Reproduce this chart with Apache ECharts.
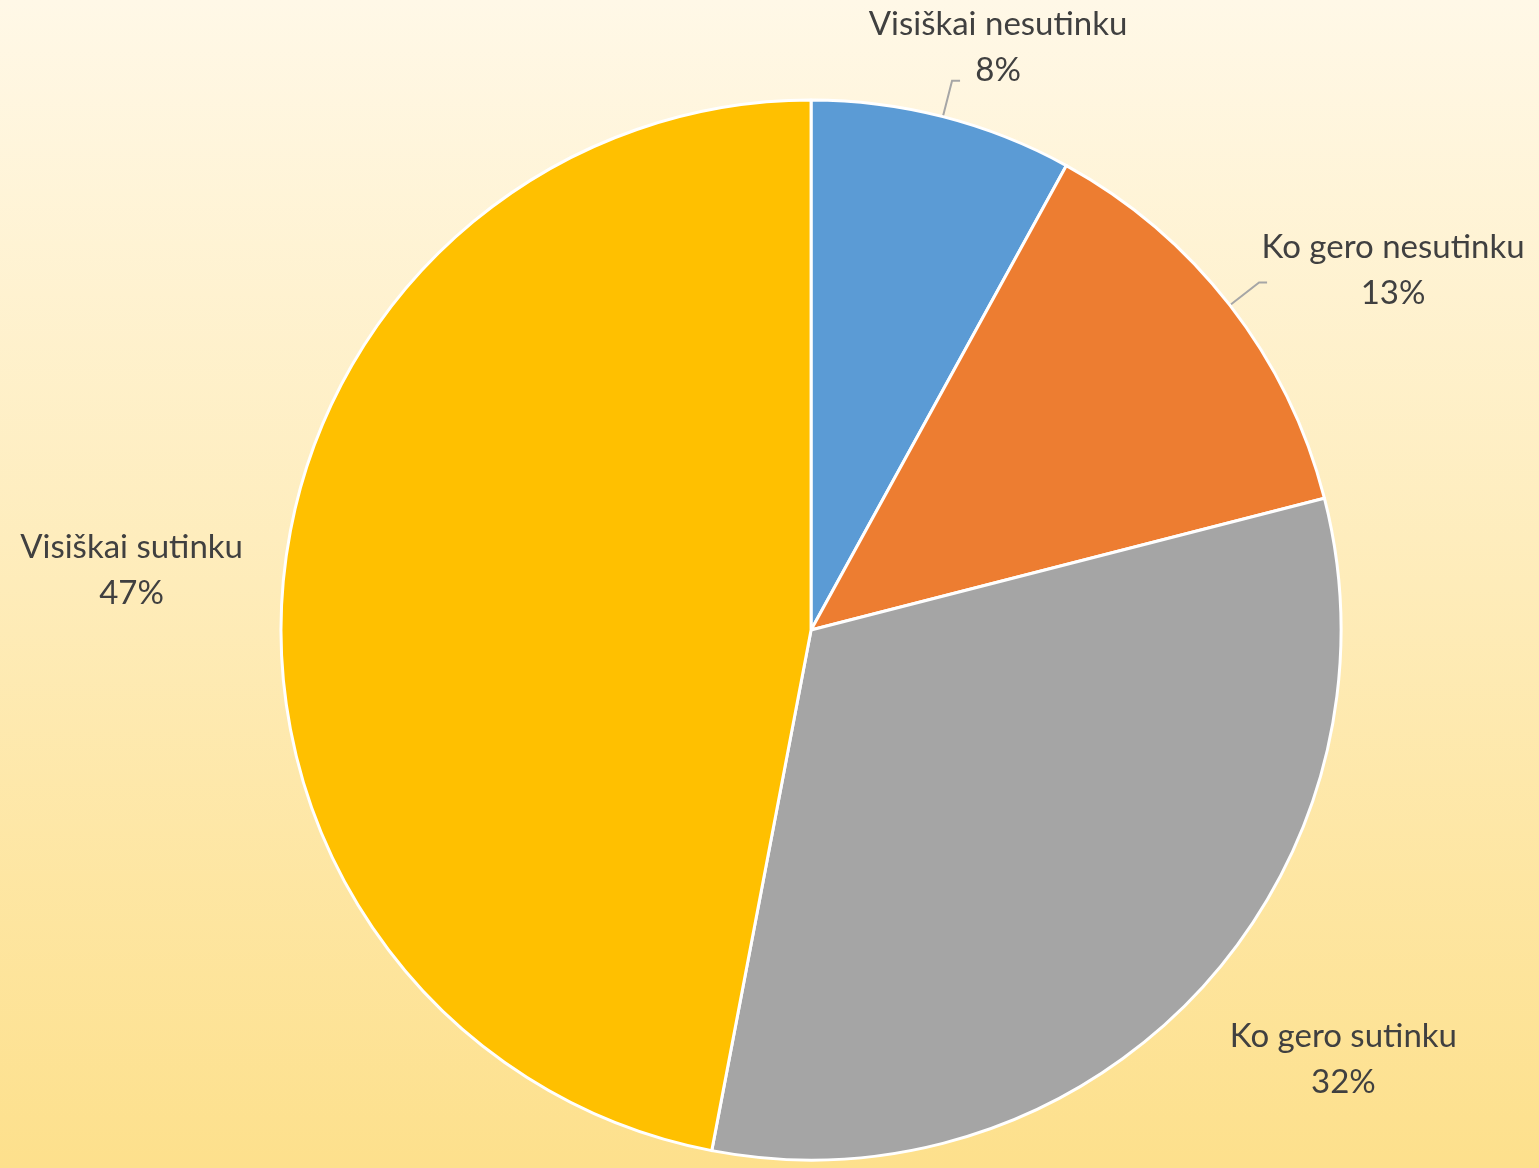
<!DOCTYPE html>
<html>
<head>
<meta charset="utf-8">
<script src="https://cdn.jsdelivr.net/npm/echarts@6/dist/echarts.min.js"></script>
<style>
  html, body { margin: 0; padding: 0; }
  #chart { width: 1539px; height: 1168px; }
</style>
</head>
<body>
<div id="chart"></div>
<script>
// data
const categories = ['Visiškai nesutinku', 'Ko gero nesutinku', 'Ko gero sutinku', 'Visiškai sutinku']
const values = [8, 13, 32, 47]
const colors = ['#5B9BD5', '#ED7D31', '#A5A5A5', '#FFC000']
const showLeader = [true, true, false, false]
// label nudges (px) so the text lands where the original has it
const labelShift = [[33, -33], [121, -12], [106, 41], [-102, -6]]

const chart = echarts.init(document.getElementById('chart'))
chart.setOption({
  backgroundColor: {
    type: 'linear', x: 0, y: 0, x2: 0, y2: 1,
    colorStops: [
      { offset: 0, color: '#FFF8E7' },
      { offset: 1, color: '#FDE08C' }
    ]
  },
  animation: false,
  series: [{
    type: 'pie',
    center: ['52.7%', '53.94%'],
    radius: 530,
    startAngle: 90,
    clockwise: true,
    avoidLabelOverlap: false,
    itemStyle: { borderColor: '#fff', borderWidth: 3 },
    label: {
      show: true,
      position: 'outside',
      formatter: '{b}\n{c}%',
      fontFamily: 'Lato',
      fontSize: 33,
      lineHeight: 46,
      color: '#404040'
    },
    labelLine: {
      length: 37,
      length2: 8,
      lineStyle: { color: '#A6A6A6', width: 2 }
    },
    labelLayout: function (p) {
      const s = labelShift[p.dataIndex]
      return { dx: s[0], dy: s[1], align: 'center', verticalAlign: 'middle' }
    },
    data: categories.map((name, i) => ({
      name: name,
      value: values[i],
      itemStyle: { color: colors[i] },
      labelLine: { show: showLeader[i] }
    }))
  }]
})
</script>
</body>
</html>
